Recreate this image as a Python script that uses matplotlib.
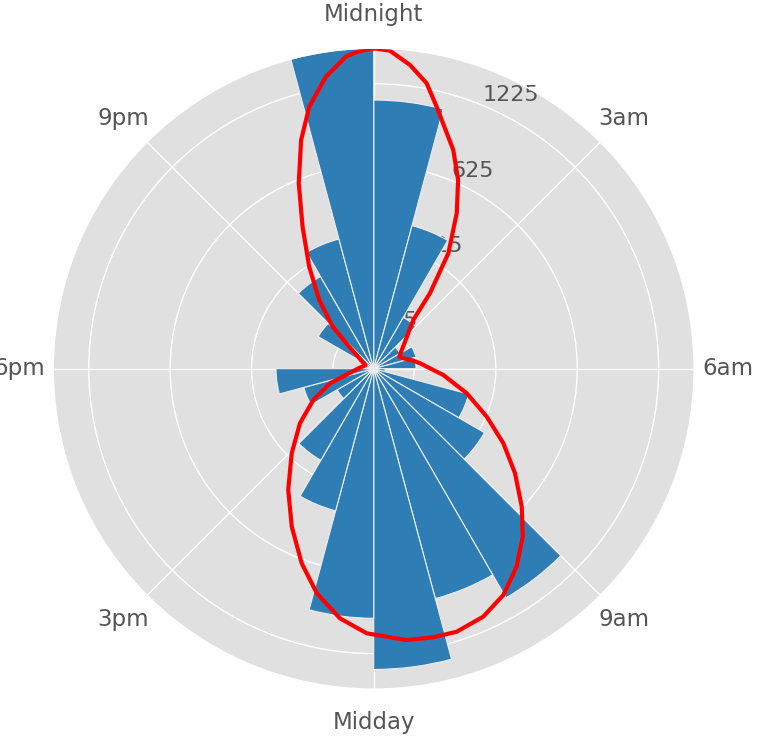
import numpy as np
import matplotlib
matplotlib.use('Agg')
import matplotlib.pyplot as plt

plt.style.use('ggplot')

# counts per hour of day
hours = list(range(24))
counts = [1089, 331, 53, 14, 29, 27, 2, 146, 247, 1056, 855, 1365,
          940, 327, 169, 27, 79, 144, 1, 1, 62, 171, 272, 1549]

# smoothed outline (angle in degrees clockwise from midnight, counts)
curve_deg = [0, 2.9, 6.8, 10.5, 13.5, 20.0, 24.1, 28.1, 32.9, 36.7, 39.1, 42.4,
             47.0, 53.9, 58.5, 64.9, 70.6, 78.6, 83.3, 95.2, 104.8, 113.0, 119.9,
             126.5, 133.0, 138.4, 144.2, 150.2, 156.2, 162.5, 167.5, 173.1, 181.5,
             187.7, 194.2, 200.3, 207.4, 215.2, 224.1, 233.5, 242.6, 251.5, 255.5,
             263.6, 271.9, 292.0, 308.8, 312.0, 315.7, 321.6, 327.7, 333.4, 338.0,
             342.4, 346.2, 350.7, 354.9, 357.1, 360]
curve_count = [1549, 1530, 1412, 1272, 1096, 817, 645, 469, 285, 134, 59.5, 43.2,
               30.0, 19.6, 15.5, 12.1, 14.9, 24.6, 32.8, 73.7, 139.7, 227.6, 337.3,
               466.4, 618.3, 760.7, 900, 1026.5, 1109.2, 1148, 1142.2, 1127.3, 1057.4,
               957.7, 810.2, 649.8, 478.2, 331.9, 209.4, 126.9, 69.8, 32.1, 15.5,
               6.3, 3.4, 1.2, 7.5, 16.3, 52, 116, 220, 381, 604,
               869, 1099, 1321, 1481, 1520, 1549]

tick_counts = [25, 225, 625, 1225]
theta_labels = ['Midnight', '3am', '6am', '9am', 'Midday', '3pm', '6pm', '9pm']

fig = plt.figure(figsize=(7.69, 7.46), dpi=100)
ax = fig.add_axes([0.0693, 0.0763, 0.8333, 0.859], projection='polar')
ax.set_facecolor('#E0E0E0')
ax.set_theta_zero_location('N')
ax.set_theta_direction(-1)

theta = np.deg2rad(np.array(hours) * 15)
width = 2 * np.pi / 24
ax.bar(theta, np.sqrt(counts), width=width, align='edge',
       color='#2E7EB5', edgecolor='#EEEEEE', linewidth=0.8)

ax.plot(np.deg2rad(curve_deg), np.sqrt(curve_count), color='red', lw=3,
        solid_joinstyle='round', solid_capstyle='round')

ax.set_rmax(np.sqrt(max(counts)))
ax.set_rmin(0)
ax.set_yticks(np.sqrt(tick_counts))
ax.set_yticklabels([str(c) for c in tick_counts])
ax.set_rlabel_position(22.5)
ax.set_xticks(np.deg2rad(np.arange(0, 360, 45)))
ax.set_xticklabels(theta_labels)
ax.tick_params(axis='x', pad=17.3, length=0, labelsize=16.5, colors='#555555')
ax.tick_params(axis='y', length=0, labelsize=16, colors='#555555')
ax.grid(color='white', linewidth=1)

for lab in ax.get_yticklabels():
    lab.set_clip_path(ax.patch)

fig.savefig('out.png', dpi=100)
